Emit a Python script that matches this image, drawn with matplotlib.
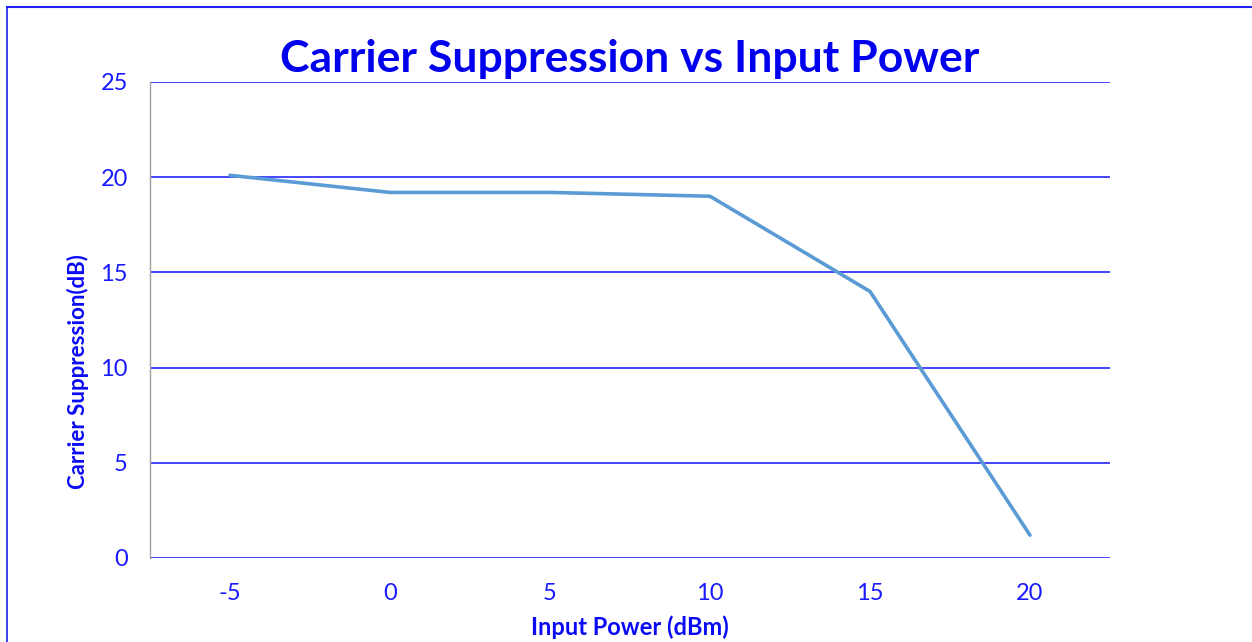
import matplotlib
matplotlib.use("Agg")
import matplotlib.pyplot as plt
from matplotlib.lines import Line2D

input_power = ["-5", "0", "5", "10", "15", "20"]
carrier_suppression = [20.1, 19.2, 19.2, 19.0, 14.0, 1.2]
y_ticks = [0, 5, 10, 15, 20, 25]

plt.rcParams['font.family'] = ['Lato', 'DejaVu Sans']

W, H = 1252, 642
fig = plt.figure(figsize=(W / 100, H / 100), dpi=100)
fig.patch.set_facecolor('white')
ax = fig.add_axes([150 / W, (H - 558) / H, (1110 - 150) / W, (558 - 82) / H])

x = list(range(len(input_power)))
ax.plot(x, carrier_suppression, color='#5b9bd5', linewidth=2.6, solid_capstyle='round', zorder=3)

ax.set_xlim(-0.5, len(input_power) - 0.5)
ax.set_ylim(0, 25)
ax.set_yticks(y_ticks)
ax.set_xticks(x)
ax.set_xticklabels(input_power)
ax.yaxis.grid(True, color='#4444f8', linewidth=1.4)
ax.set_axisbelow(True)
for s in ['top', 'right', 'bottom']:
    ax.spines[s].set_visible(False)
ax.spines['left'].set_color('#a0a0a0')
ax.spines['left'].set_linewidth(1.0)
ax.tick_params(axis='both', length=0, labelsize=17, labelcolor='#1a1aff')
ax.tick_params(axis='x', pad=18)
ax.tick_params(axis='y', pad=16)

fig.text(630 / W, 1 - 59 / H, "Carrier Suppression vs Input Power", ha='center', va='center',
         fontsize=32, fontweight='bold', color='#0000ee')
fig.text(630 / W, 1 - 627 / H, "Input Power (dBm)", ha='center', va='center',
         fontsize=17, fontweight='bold', color='#0a0af5')
fig.text(78 / W, 1 - 372 / H, "Carrier Suppression(dB)", ha='center', va='center', rotation=90,
         fontsize=16, fontweight='bold', color='#0a0af5')

fig.add_artist(Line2D([7 / W, 7 / W], [0, 1 - 7 / H], transform=fig.transFigure, color='#2020ee', linewidth=1.2))
fig.add_artist(Line2D([7 / W, 1], [1 - 7 / H, 1 - 7 / H], transform=fig.transFigure, color='#2020ee', linewidth=1.5))

fig.savefig("out.png", dpi=100, facecolor='white')
